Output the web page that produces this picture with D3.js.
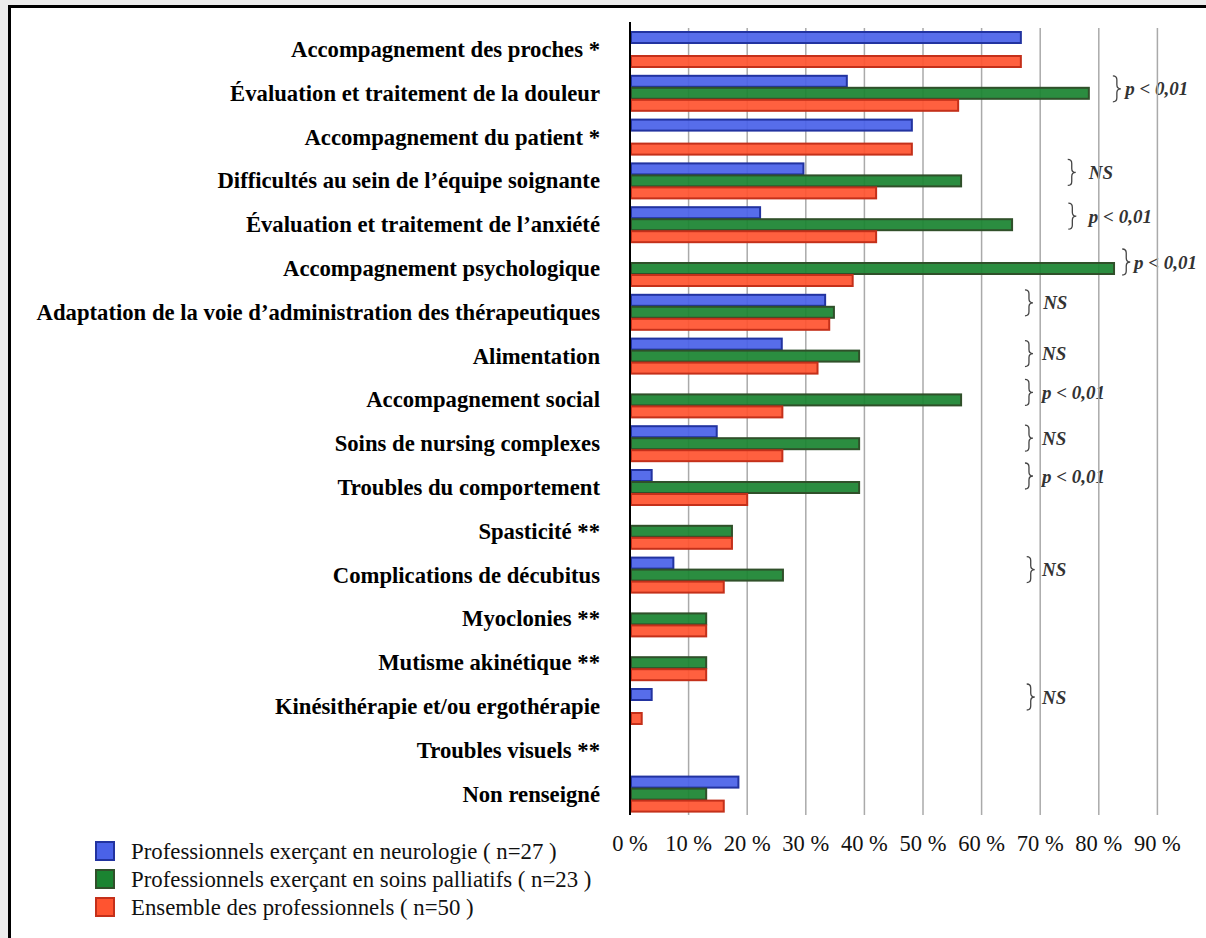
<!DOCTYPE html>
<html>
<head>
<meta charset="utf-8">
<script src="https://cdn.jsdelivr.net/npm/d3@7"></script>
<style>
  body { margin: 0; background: #ececec; }
  svg { display: block; }
</style>
</head>
<body>
<div id="chart"></div>
<script>
const categories = [
  "Accompagnement des proches *",
  "Évaluation et traitement de la douleur",
  "Accompagnement du patient *",
  "Difficultés au sein de l’équipe soignante",
  "Évaluation et traitement de l’anxiété",
  "Accompagnement psychologique",
  "Adaptation de la voie d’administration des thérapeutiques",
  "Alimentation",
  "Accompagnement social",
  "Soins de nursing complexes",
  "Troubles du comportement",
  "Spasticité **",
  "Complications de décubitus",
  "Myoclonies **",
  "Mutisme akinétique **",
  "Kinésithérapie et/ou ergothérapie",
  "Troubles visuels **",
  "Non renseigné"
];

const seriesNames = [
  "Professionnels exerçant en neurologie ( n=27 )",
  "Professionnels exerçant en soins palliatifs ( n=23 )",
  "Ensemble des professionnels ( n=50 )"
];

const neurologie = [66.7, 37.0, 48.1, 29.6, 22.2, 0, 33.3, 25.9, 0, 14.8, 3.7, 0, 7.4, 0, 0, 3.7, 0, 18.5];
const palliatifs = [0, 78.3, 0, 56.5, 65.2, 82.6, 34.8, 39.1, 56.5, 39.1, 39.1, 17.4, 26.1, 13.0, 13.0, 0, 0, 13.0];
const ensemble   = [66.7, 56.0, 48.1, 42.0, 42.0, 38.0, 34.0, 32.0, 26.0, 26.0, 20.0, 17.4, 16.0, 13.0, 13.0, 2.0, 0, 16.0];

const tickValues = [0, 10, 20, 30, 40, 50, 60, 70, 80, 90];

// significance notes: category, text, brace position and text position (in %)
const notes = [
  { cat: 1,  text: "p < 0,01", brace: 82.4, at: 84.5, dy: 14 },
  { cat: 3,  text: "NS",       brace: 74.7, at: 78.3, dy: 10 },
  { cat: 4,  text: "p < 0,01", brace: 74.8, at: 78.3, dy: 10 },
  { cat: 5,  text: "p < 0,01", brace: 84.0, at: 86.0, dy: 12 },
  { cat: 6,  text: "NS",       brace: 67.4, at: 70.5, dy: 9 },
  { cat: 7,  text: "NS",       brace: 67.4, at: 70.3, dy: 16 },
  { cat: 8,  text: "p < 0,01", brace: 67.4, at: 70.3, dy: 11 },
  { cat: 9,  text: "NS",       brace: 67.4, at: 70.3, dy: 13 },
  { cat: 10, text: "p < 0,01", brace: 67.4, at: 70.3, dy: 7 },
  { cat: 12, text: "NS",       brace: 67.7, at: 70.3, dy: 13 },
  { cat: 15, text: "NS",       brace: 67.7, at: 70.3, dy: 9 }
];

const fills = ["#4a62e8", "#1b8431", "#ff5430"];
const strokes = ["#2233a0", "#30502a", "#c4301a"];

const svgWidth = 1206, svgHeight = 938;
const serif = '"Liberation Serif", "Times New Roman", serif';

const svg = d3.select('#chart').append('svg')
  .attr('width', svgWidth)
  .attr('height', svgHeight);

// page frame
svg.append('rect')
  .attr('x', 9.5).attr('y', 6.5)
  .attr('width', 1300).attr('height', 1000)
  .attr('fill', '#fff')
  .attr('stroke', '#000')
  .attr('stroke-width', 3);

const xScale = d3.scaleLinear().domain([0, 90]).range([630, 1157.4]);

const yScale = d3.scaleBand()
  .domain(categories)
  .range([27.1, 815.5])
  .paddingInner(0.178)
  .paddingOuter(0.089);

const ySub = d3.scaleBand()
  .domain([0, 1, 2])
  .range([0, yScale.bandwidth()]);

const rows = categories.map((c, i) => ({
  cat: c,
  values: [neurologie[i], palliatifs[i], ensemble[i]]
}));

// annotations (under the grid)
const noteG = svg.append('g');
notes.forEach(n => {
  const yc = yScale(categories[n.cat]) + n.dy;
  const bx = xScale(n.brace);
  const h = 26;
  noteG.append('path')
    .attr('d', `M${bx},${yc - h / 2} q4,0 4,4 v${h / 2 - 8} q0,4 4,4 q-4,0 -4,4 v${h / 2 - 8} q0,4 -4,4`)
    .attr('fill', 'none')
    .attr('stroke', '#444')
    .attr('stroke-width', 1.3);
  noteG.append('text')
    .attr('x', xScale(n.at))
    .attr('y', yc)
    .attr('dy', '0.35em')
    .attr('font-family', serif)
    .attr('font-style', 'italic')
    .attr('font-weight', 'bold')
    .attr('font-size', 19)
    .attr('fill', '#333')
    .text(n.text);
});

// grid
svg.append('g')
  .selectAll('line')
  .data(tickValues.slice(1))
  .enter()
  .append('line')
  .attr('x1', d => xScale(d)).attr('x2', d => xScale(d))
  .attr('y1', 28).attr('y2', 815)
  .attr('stroke', '#aaa')
  .attr('stroke-width', 1.5);

// bars
const group = svg.selectAll('.row')
  .data(rows)
  .enter()
  .append('g')
  .attr('class', 'row')
  .attr('transform', d => `translate(0, ${yScale(d.cat)})`);

group.selectAll('rect')
  .data(d => d.values.map((v, k) => ({ v, k })).filter(e => e.v > 0))
  .enter()
  .append('rect')
  .attr('x', xScale(0) + 1)
  .attr('y', e => ySub(e.k) + 1)
  .attr('width', e => xScale(e.v) - xScale(0) - 1)
  .attr('height', ySub.bandwidth() - 1)
  .attr('fill', e => fills[e.k])
  .attr('fill-opacity', 0.93)
  .attr('stroke', e => strokes[e.k])
  .attr('stroke-width', 2);

// category labels
svg.append('g')
  .selectAll('text')
  .data(categories)
  .enter()
  .append('text')
  .attr('x', 600)
  .attr('y', d => yScale(d) + yScale.bandwidth() / 2)
  .attr('dy', '0.35em')
  .attr('text-anchor', 'end')
  .attr('font-family', serif)
  .attr('font-weight', 'bold')
  .attr('font-size', 22.7)
  .attr('fill', '#000')
  .text(d => d);

// axis line
svg.append('line')
  .attr('x1', xScale(0)).attr('x2', xScale(0))
  .attr('y1', 22).attr('y2', 815)
  .attr('stroke', '#000')
  .attr('stroke-width', 2);

// tick labels
svg.append('g')
  .selectAll('text')
  .data(tickValues)
  .enter()
  .append('text')
  .attr('x', d => xScale(d))
  .attr('y', 843)
  .attr('dy', '0.35em')
  .attr('text-anchor', 'middle')
  .attr('font-family', serif)
  .attr('font-size', 22.5)
  .attr('fill', '#111')
  .text(d => d + ' %');

// legend
const legend = svg.append('g')
  .selectAll('g')
  .data(seriesNames)
  .enter()
  .append('g')
  .attr('transform', (d, i) => `translate(96, ${842 + i * 28})`);

legend.append('rect')
  .attr('width', 18).attr('height', 18)
  .attr('fill', (d, i) => fills[i])
  .attr('stroke', (d, i) => strokes[i])
  .attr('stroke-width', 2);

legend.append('text')
  .attr('x', 35)
  .attr('y', 9)
  .attr('dy', '0.35em')
  .attr('font-family', serif)
  .attr('font-size', 22.8)
  .attr('fill', '#111')
  .text(d => d);
</script>
</body>
</html>
